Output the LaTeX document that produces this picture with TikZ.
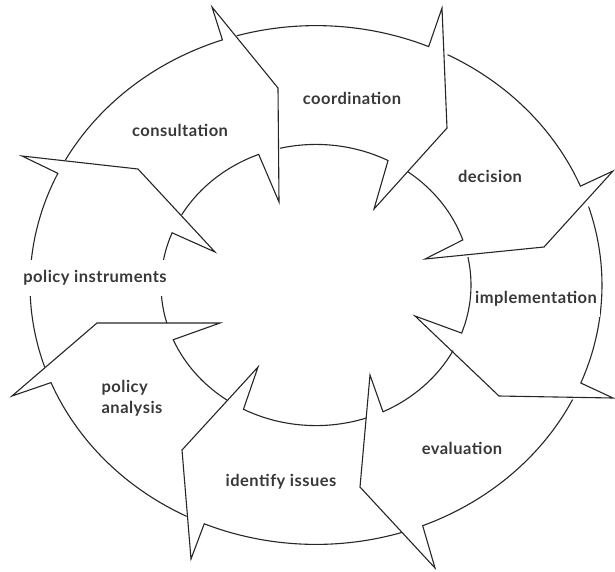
\documentclass[tikz,border=0pt]{standalone}
\usepackage{fontspec}
\setmainfont{Lato}[LetterSpace=3]
\begin{document}
\begin{tikzpicture}[x=1pt,y=-1pt,
  ring/.style={draw=black!85,line width=1.1pt,line join=miter,miter limit=20},
  lbl/.style={font=\fontsize{16.5}{21}\selectfont\bfseries,text=black!78,inner sep=0pt},
  gap/.style={lbl,fill=white,inner xsep=3pt,minimum height=36pt}]
\useasboundingbox (0,0) rectangle (615,571);

% outer tip, middle point and inner tip of each arrow head
\coordinate (o1) at (212,7);   \coordinate (m1) at (278,88);  \coordinate (i1) at (279,202);
\coordinate (o2) at (442,8);   \coordinate (m2) at (447,128); \coordinate (i2) at (374,209);
\coordinate (o3) at (613,171); \coordinate (m3) at (544,247); \coordinate (i3) at (425,259);
\coordinate (o4) at (613,398); \coordinate (m4) at (499,396); \coordinate (i4) at (415,316);
\coordinate (o5) at (435,568); \coordinate (m5) at (360,487); \coordinate (i5) at (370,375);
\coordinate (o6) at (191,559); \coordinate (m6) at (182,450); \coordinate (i6) at (258,367);
\coordinate (o7) at (12,396);  \coordinate (m7) at (97,323);  \coordinate (i7) at (220,323);
\coordinate (o8) at (22,156);  \coordinate (m8) at (138,169); \coordinate (i8) at (215,252);

% ring segments: outer arc, arrow head, inner arc back
\begin{scope}[shift={(316,285)},yscale=-0.907]
\def\R{286}\def\r{155}
% coordination
\draw[ring] (106.1:\R) arc[start angle=106.1,end angle=66.8,radius=\R]
  -- (o2) -- (m2) -- (i2) -- (62.3:\r) arc[start angle=62.3,end angle=103.4,radius=\r];
% decision
\draw[ring] (62.6:\R) arc[start angle=62.6,end angle=22.4,radius=\R]
  -- (o3) -- (m3) -- (i3) -- (18.7:\r) arc[start angle=18.7,end angle=53.6,radius=\r];
% implementation
\draw[ring] (17.6:\R) arc[start angle=17.6,end angle=-22.2,radius=\R]
  -- (o4) -- (m4) -- (i4) -- (-20.0:\r) arc[start angle=-20.0,end angle=11.4,radius=\r];
% evaluation
\draw[ring] (-26.2:\R) arc[start angle=-26.2,end angle=-68.1,radius=\R]
  -- (o5) -- (m5) -- (i5) -- (-64.4:\r) arc[start angle=-64.4,end angle=-27.8,radius=\r];
% identify issues
\draw[ring] (-72.5:\R) arc[start angle=-72.5,end angle=-113.0,radius=\R]
  -- (o6) -- (m6) -- (i6) -- (-117.9:\r) arc[start angle=-117.9,end angle=-71.0,radius=\r];
% policy analysis
\draw[ring] (-116.9:\R) arc[start angle=-116.9,end angle=-157.9,radius=\R]
  -- (o7) -- (m7) -- (i7) -- (-157.1:\r) arc[start angle=-157.1,end angle=-125.0,radius=\r];
% policy instruments
\draw[ring] (198.5:\R) arc[start angle=198.5,end angle=154.5,radius=\R]
  -- (o8) -- (m8) -- (i8) -- (158.2:\r) arc[start angle=158.2,end angle=195.8,radius=\r];
% consultation
\draw[ring] (151.2:\R) arc[start angle=151.2,end angle=109.1,radius=\R]
  -- (o1) -- (m1) -- (i1) -- (111.7:\r) arc[start angle=111.7,end angle=150.1,radius=\r];
\end{scope}

% labels
\node[lbl] (consult) at (180,130) {consultation};
\node[lbl] (coord) at (352,98) {coordination};
\node[lbl] (decis) at (490,176) {decision};
\node[gap] (impl) at (536,299) {implementation};
\node[lbl] (evalu) at (462,448) {evaluation};
\node[lbl] (ident) at (281,482) {identify issues};
\node[lbl,align=left] (analy) at (132,398) {policy\\analysis};
\node[gap] (instr) at (95,278) {policy instruments};
\end{tikzpicture}
\end{document}
